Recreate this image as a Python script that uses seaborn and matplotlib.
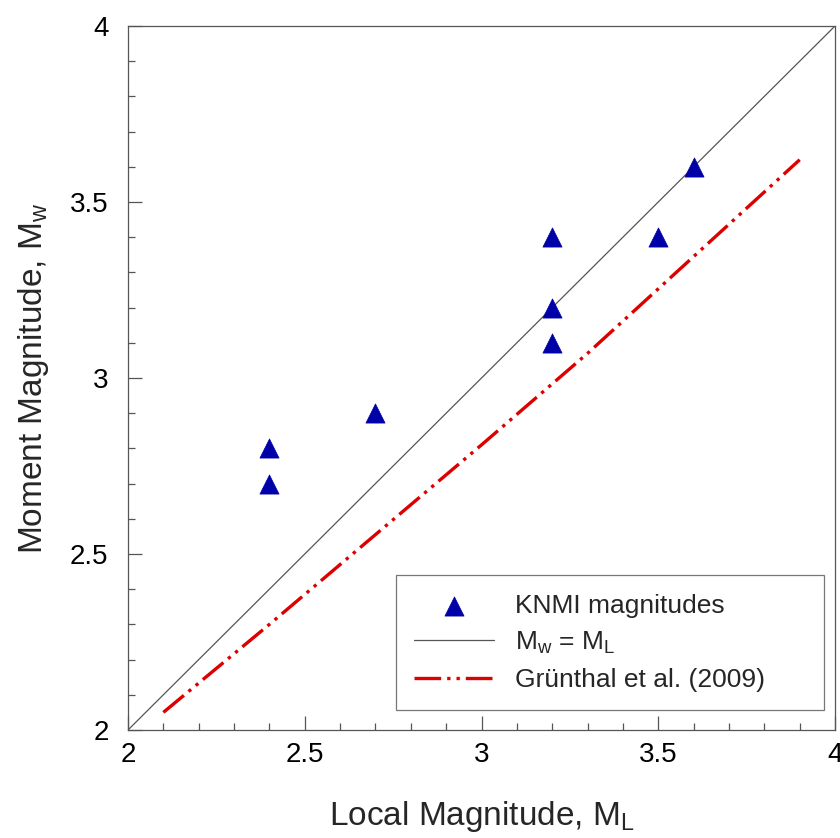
import matplotlib
matplotlib.use("Agg")
import matplotlib.pyplot as plt
from matplotlib.ticker import MultipleLocator
import seaborn as sns
import pandas as pd

# KNMI events: local magnitude vs moment magnitude
knmi_ml = [2.4, 2.4, 2.7, 3.2, 3.2, 3.2, 3.5, 3.6]
knmi_mw = [2.8, 2.7, 2.9, 3.4, 3.2, 3.1, 3.4, 3.6]

# Mw = ML reference line
identity_ml = [2.0, 4.0]
identity_mw = [2.0, 4.0]

# Grünthal et al. (2009) conversion curve
gr_ml = [2.1, 2.4, 2.7, 3.0, 3.3, 3.6, 3.9]
gr_mw = [2.05, 2.30, 2.555, 2.81, 3.07, 3.345, 3.62]

x_ticks = [2, 2.5, 3, 3.5, 4]
y_ticks = [2, 2.5, 3, 3.5, 4]
x_tick_labels = ["2", "2.5", "3", "3.5", "4"]
y_tick_labels = ["2", "2.5", "3", "3.5", "4"]

sns.set_theme(style="white")
plt.rcParams["font.family"] = ["Liberation Sans", "DejaVu Sans"]
plt.rcParams["mathtext.fontset"] = "custom"
plt.rcParams["mathtext.rm"] = "Liberation Sans"
plt.rcParams["mathtext.it"] = "Liberation Sans"

fig = plt.figure(figsize=(8.4, 8.38), dpi=100)
ax = fig.add_axes([0.1524, 0.1289, 0.8417, 0.8401])

df_pts = pd.DataFrame({"ML": knmi_ml, "Mw": knmi_mw})
df_id = pd.DataFrame({"ML": identity_ml, "Mw": identity_mw})
df_gr = pd.DataFrame({"ML": gr_ml, "Mw": gr_mw})

sns.lineplot(data=df_id, x="ML", y="Mw", ax=ax, color="#555555",
             linewidth=0.9, label=r"M$_{\mathrm{w}}$ = M$_{\mathrm{L}}$", zorder=2)
sns.lineplot(data=df_gr, x="ML", y="Mw", ax=ax, color="#DD0000",
             linewidth=2.4, label="Grünthal et al. (2009)", zorder=2,
             dashes=False)
gr_line = ax.get_lines()[-1]
gr_line.set_dashes((8, 1.8, 1, 1.8, 1, 1.8))
sns.scatterplot(data=df_pts, x="ML", y="Mw", ax=ax, marker="^", s=190,
                color="#0000A8", edgecolor="#0000A8", linewidth=0.5,
                label="KNMI magnitudes", zorder=3)

ax.set_xlim(2, 4)
ax.set_ylim(2, 4)
ax.set_xticks(x_ticks)
ax.set_xticklabels(x_tick_labels)
ax.set_yticks(y_ticks)
ax.set_yticklabels(y_tick_labels)
ax.xaxis.set_minor_locator(MultipleLocator(0.1))
ax.yaxis.set_minor_locator(MultipleLocator(0.1))
ax.tick_params(which="both", direction="in", color="#555555", width=0.9,
               bottom=True, left=True, top=False, right=False)
ax.tick_params(which="major", length=10, labelsize=20, labelcolor="black")
ax.tick_params(axis="x", which="major", pad=9)
ax.tick_params(axis="y", which="major", pad=14)
ax.tick_params(which="minor", length=5)

for sp in ax.spines.values():
    sp.set_color("#555555")
    sp.set_linewidth(0.9)

ax.set_xlabel(r"Local Magnitude, M$_{\mathrm{L}}$", fontsize=24, labelpad=22)
ax.set_ylabel(r"Moment Magnitude, M$_{\mathrm{w}}$", fontsize=24, labelpad=14)

handles, labels = ax.get_legend_handles_labels()
order = [labels.index("KNMI magnitudes"),
         labels.index(r"M$_{\mathrm{w}}$ = M$_{\mathrm{L}}$"),
         labels.index("Grünthal et al. (2009)")]
leg = ax.legend([handles[i] for i in order], [labels[i] for i in order],
                loc="lower left", bbox_to_anchor=(0.379, 0.028, 0.606, 0.19),
                mode="expand", borderaxespad=0, fontsize=19, frameon=True,
                fancybox=False, edgecolor="#555555", handlelength=3.0,
                handletextpad=0.8, labelspacing=0.45, borderpad=0.7,
                markerscale=1.0)
leg.get_frame().set_linewidth(0.9)

fig.savefig("out.png", dpi=100)
